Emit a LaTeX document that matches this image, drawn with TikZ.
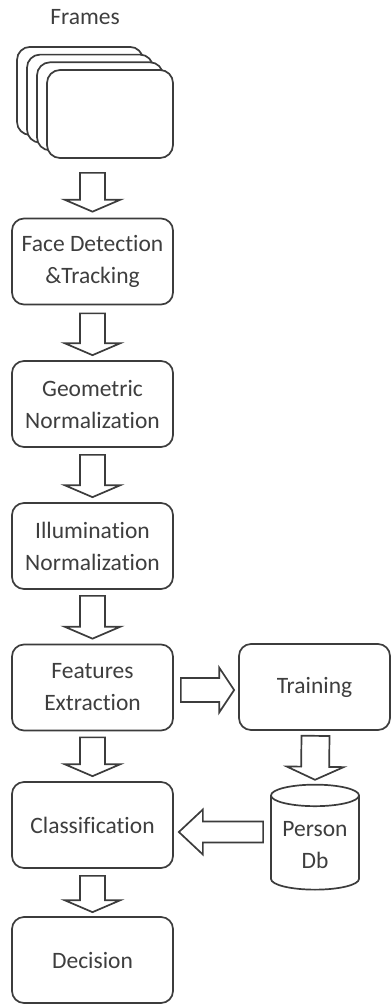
\documentclass[tikz,border=0pt]{standalone}
\usepackage{fontspec}
\setmainfont{Carlito}[Ligatures=NoCommon]
\usepackage{tikz}
\usetikzlibrary{shapes.geometric, calc}
\definecolor{mydark}{RGB}{60,60,60}
\definecolor{mytext}{RGB}{62,62,62}
\tikzset{
  block/.style={rectangle, draw=mydark, fill=white, text=mytext,
    minimum width=161pt, minimum height=86pt, align=center,
    rounded corners=12pt, line width=1.7pt},
  card/.style={rectangle, draw=mydark, fill=white,
    minimum width=126pt, minimum height=88pt, rounded corners=13pt, line width=1.7pt},
  dbase/.style={cylinder, shape border rotate=90, draw=mydark, fill=white, text=mytext,
    aspect=0.3, minimum width=88pt, minimum height=105pt, align=center, line width=1.7pt},
  hollow/.style={draw=mydark, fill=white, line width=1.7pt, line join=miter}
}
% hollow block arrow: start, tip, shaft half width, head half width, head length
\newcommand{\fatarrow}[5]{%
  \coordinate (fa-s) at (#1);
  \coordinate (fa-t) at (#2);
  \coordinate (fa-h) at ($(fa-t)!#5!(fa-s)$);
  \draw[hollow] ($(fa-s)!#3!90:(fa-t)$) -- ($(fa-h)!#3!-90:(fa-s)$)
    -- ($(fa-h)!#4!-90:(fa-s)$) -- (fa-t) -- ($(fa-h)!#4!90:(fa-s)$)
    -- ($(fa-h)!#3!90:(fa-s)$) -- ($(fa-s)!#3!-90:(fa-t)$) -- cycle;
}

\begin{document}
\begin{tikzpicture}[x=1pt, y=-1pt, every node/.style={font=\fontsize{23.5}{32}\selectfont}]
  \useasboundingbox (0,0) rectangle (391,1005);

  % Frames
  \node[text=mytext] (frames) at (85,17) {Frames};
  \foreach \k in {3,2,1,0}
    \node[card] (frame\k) at (110-10*\k, 114-7.7*\k) {};

  % Main chain
  \node[block] (det) at (92.5,261.5) {Face Detection\\\&Tracking};
  \node[block] (geo) at (92.5,404) {Geometric\\Normalization};
  \node[block] (ill) at (92.5,546) {Illumination\\Normalization};
  \node[block] (feat) at (92.5,687.5) {Features\\Extraction};
  \node[block] (cls) at (92.5,825) {Classification};
  \node[block] (dec) at (92.5,960) {Decision};

  % Training branch
  \node[block, minimum width=151pt] (train) at (314.5,687) {Training};
  \node[dbase] (db) at (315,845) {Person\\Db};

  % Arrows
  \fatarrow{$(det.north |- frame0.south)+(0,14)$}{$(det.north)+(0,-6)$}{12.5pt}{28pt}{12pt}
  \fatarrow{$(det.south)+(0,8)$}{$(geo.north)+(0,-5)$}{12.5pt}{28pt}{12pt}
  \fatarrow{$(geo.south)+(0,7)$}{$(ill.north)+(0,-5)$}{12.5pt}{28pt}{12pt}
  \fatarrow{$(ill.south)+(0,6)$}{$(feat.north)+(0,-5)$}{12.5pt}{28pt}{12pt}
  \fatarrow{$(feat.south)+(0,6)$}{$(cls.north)+(0,-5)$}{12.5pt}{28pt}{12pt}
  \fatarrow{$(cls.south)+(0,7)$}{$(dec.north)+(0,-4)$}{12.5pt}{28pt}{12pt}
  \fatarrow{$(train.south)+(1,5)$}{$(db.north)+(0,-4)$}{14pt}{28.5pt}{13pt}
  \fatarrow{$(feat.east)+(7,2.5)$}{$(train.west |- feat.east)+(-4,2.5)$}{12pt}{22.5pt}{15pt}
  \fatarrow{$(db.west)+(-7,-13)$}{$(cls.east |- db.west)+(5,-13)$}{10.5pt}{22.5pt}{24pt}
\end{tikzpicture}
\end{document}
